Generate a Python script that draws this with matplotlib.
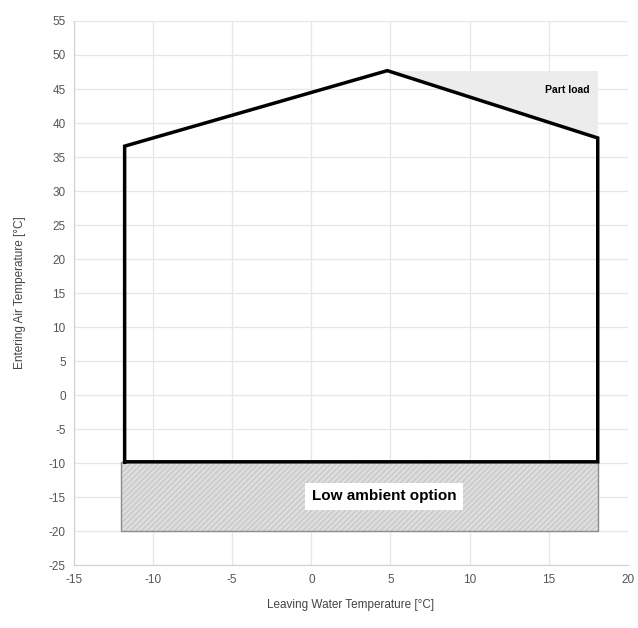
import numpy as np
import matplotlib.pyplot as plt
from matplotlib.patches import Polygon, Rectangle

plt.rcParams['font.family'] = ['Liberation Sans', 'DejaVu Sans']
plt.rcParams['axes.unicode_minus'] = False

# operating envelope (leaving water temp, entering air temp), closed
env_x = [-11.8, -11.8, 4.8, 18.1, 18.1, -11.8]
env_y = [-9.8, 36.6, 47.7, 37.8, -9.8, -9.8]

# part load corner
part_x = [4.8, 18.1, 18.1]
part_y = [47.7, 47.7, 37.8]

# low ambient option band
low_x = [-12.0, 18.1]
low_y = [-20.0, -9.8]

fig = plt.figure(figsize=(6.38, 6.28), dpi=100)
ax = fig.add_axes([0.116, 0.1, 0.868, 0.8666])

ax.set_xlim(-15, 20)
ax.set_ylim(-25, 55)
ax.set_xticks(np.arange(-15, 21, 5))
ax.set_yticks(np.arange(-25, 56, 5))
ax.grid(True, color='#e6e6e6', linewidth=0.9)
ax.set_axisbelow(True)
for s in ['top', 'right']:
    ax.spines[s].set_visible(False)
for s in ['left', 'bottom']:
    ax.spines[s].set_color('#d0d0d0')
ax.tick_params(length=0, labelsize=8.5, colors='#555555', pad=6)

ax.add_patch(Polygon(list(zip(part_x, part_y)), closed=True,
                     facecolor='#ececec', edgecolor='none', zorder=1))

# hatched fill, then a separate outline
w = low_x[1] - low_x[0]
h = low_y[1] - low_y[0]
ax.add_patch(Rectangle((low_x[0], low_y[0]), w, h, facecolor='#dedede',
                       edgecolor='#c8c8c8', hatch='//////', linewidth=0, zorder=1))
ax.add_patch(Rectangle((low_x[0], low_y[0]), w, h, facecolor='none',
                       edgecolor='#8c8c8c', linewidth=1.0, zorder=2))

ax.plot(env_x, env_y, color='black', linewidth=2.5, solid_joinstyle='miter', zorder=3)

ax.text(4.6, -14.9, 'Low ambient option', fontsize=11, fontweight='bold',
        ha='center', va='center', zorder=4,
        bbox=dict(facecolor='white', edgecolor='none', pad=5))
ax.text(17.6, 44.9, 'Part load', fontsize=7.5, fontweight='bold', ha='right', va='center')

ax.set_xlabel('Leaving Water Temperature [°C]', fontsize=8.5, color='#444444', labelpad=10)
ax.set_ylabel('Entering Air Temperature [°C]', fontsize=8.5, color='#444444', labelpad=16)

fig.savefig('out.png', dpi=100)
